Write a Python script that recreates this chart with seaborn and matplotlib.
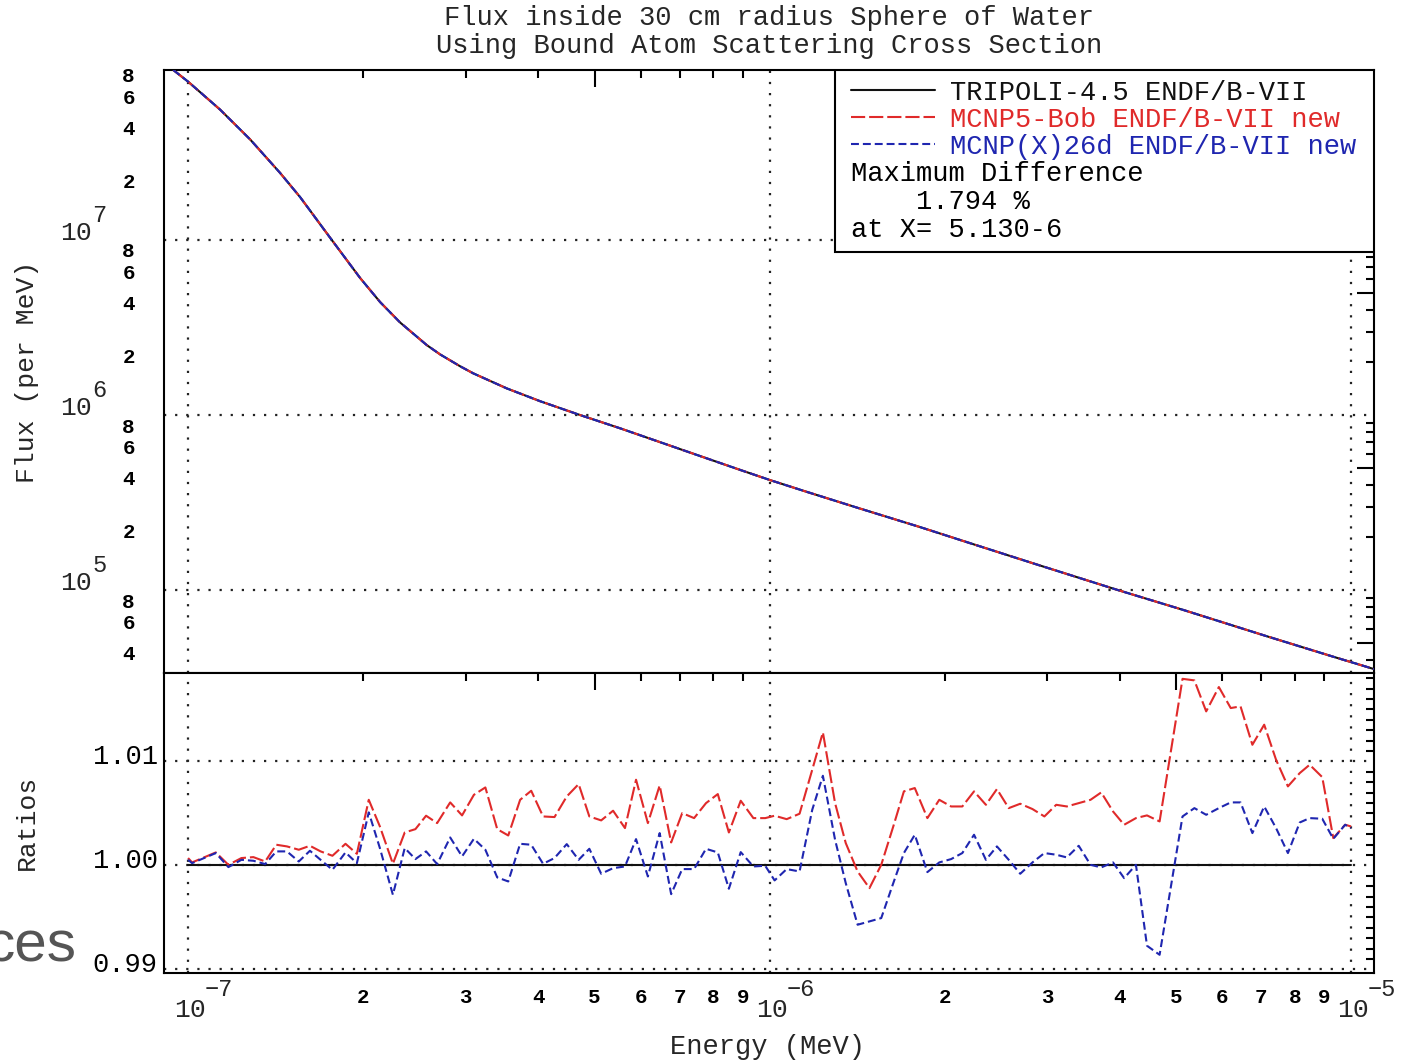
import numpy as np
import pandas as pd
import matplotlib
matplotlib.use("Agg")
import matplotlib.pyplot as plt
import matplotlib.ticker as mticker
from matplotlib.transforms import ScaledTranslation
from matplotlib.patches import Rectangle
import seaborn as sns

# ---------------- data ----------------
title_lines = ["Flux inside 30 cm radius Sphere of Water",
               "Using Bound Atom Scattering Cross Section"]
series_names = ["TRIPOLI-4.5 ENDF/B-VII",
                "MCNP5-Bob ENDF/B-VII new",
                "MCNP(X)26d ENDF/B-VII new"]
max_diff_lines = ["Maximum Difference", "    1.794 %", "at X= 5.130-6"]
x_label = "Energy (MeV)"
y_label_top = "Flux (per MeV)"
y_label_bottom = "Ratios"

flux_energy = [9.43e-8, 1.000e-7, 1.135e-7, 1.278e-7, 1.439e-7, 1.558e-7,
               1.755e-7, 1.976e-7, 2.139e-7, 2.315e-7, 2.573e-7, 2.713e-7,
               2.936e-7, 3.094e-7, 3.532e-7, 4.030e-7, 4.722e-7, 5.533e-7,
               6.482e-7, 7.596e-7, 8.899e-7, 1.002e-6, 1.159e-6, 1.413e-6,
               1.815e-6, 2.183e-6, 2.843e-6, 3.954e-6, 5.147e-6, 7.161e-6,
               9.324e-6, 1.107e-5]
flux_tripoli = [9.36e7, 8.03e7, 5.56e7, 3.76e7, 2.42e7, 1.76e7,
                1.03e7, 6.07e6, 4.42e6, 3.38e6, 2.51e6, 2.22e6,
                1.90e6, 1.73e6, 1.42e6, 1.20e6, 1.00e6, 8.40e5,
                7.00e5, 5.83e5, 4.86e5, 4.25e5, 3.64e5, 2.96e5,
                2.29e5, 1.88e5, 1.42e5, 1.005e5, 7.70e4, 5.45e4,
                4.16e4, 3.50e4]
# MCNP flux curves coincide with TRIPOLI at this scale
flux_mcnp5 = list(flux_tripoli)
flux_mcnpx = list(flux_tripoli)

ratio_energy = [
    1.000e-7, 1.016e-7, 1.116e-7, 1.173e-7, 1.235e-7, 1.295e-7, 1.357e-7, 1.418e-7, 1.479e-7, 1.550e-7,
    1.620e-7, 1.690e-7, 1.771e-7, 1.865e-7, 1.951e-7, 2.045e-7, 2.137e-7, 2.250e-7, 2.358e-7, 2.460e-7,
    2.566e-7, 2.681e-7, 2.823e-7, 2.959e-7, 3.101e-7, 3.245e-7, 3.401e-7, 3.553e-7, 3.724e-7, 3.891e-7,
    4.078e-7, 4.267e-7, 4.479e-7, 4.695e-7, 4.898e-7, 5.133e-7, 5.381e-7, 5.640e-7, 5.893e-7, 6.176e-7,
    6.471e-7, 6.772e-7, 7.075e-7, 7.416e-7, 7.774e-7, 8.146e-7, 8.511e-7, 8.920e-7, 9.378e-7, 9.829e-7,
    1.020e-6, 1.070e-6, 1.126e-6, 1.184e-6, 1.235e-6, 1.296e-6, 1.352e-6, 1.417e-6, 1.485e-6, 1.556e-6,
    1.632e-6, 1.702e-6, 1.777e-6, 1.868e-6, 1.958e-6, 2.052e-6, 2.145e-6, 2.247e-6, 2.355e-6, 2.460e-6,
    2.578e-6, 2.698e-6, 2.832e-6, 2.969e-6, 3.111e-6, 3.245e-6, 3.401e-6, 3.564e-6, 3.718e-6, 3.896e-6,
    4.071e-6, 4.266e-6, 4.457e-6, 4.685e-6, 5.130e-6, 5.377e-6, 5.634e-6, 5.924e-6, 6.209e-6, 6.455e-6,
    6.765e-6, 7.089e-6, 7.430e-6, 7.787e-6, 8.161e-6, 8.487e-6, 8.921e-6, 9.320e-6, 9.768e-6, 1.000e-5]

ratio_tripoli = [1.0] * len(ratio_energy)

ratio_mcnp5 = [
    1.00071, 1.00029, 1.00125, 1.00006, 1.00071, 1.00080, 1.00038, 1.00199, 1.00183, 1.00151,
    1.00189, 1.00135, 1.00093, 1.00208, 1.00112, 1.00631, 1.00375, 1.00016, 1.00317, 1.00349,
    1.00478, 1.00407, 1.00606, 1.00481, 1.00679, 1.00750, 1.00349, 1.00288, 1.00631, 1.00718,
    1.00471, 1.00465, 1.00663, 1.00782, 1.00471, 1.00433, 1.00526, 1.00359, 1.00824, 1.00407,
    1.00769, 1.00221, 1.00503, 1.00455, 1.00599, 1.00686, 1.00317, 1.00622, 1.00455, 1.00455,
    1.00478, 1.00445, 1.00497, 1.00920, 1.01279, 1.00599, 1.00215, 0.99942, 0.99782, 1.00006,
    1.00375, 1.00712, 1.00744, 1.00455, 1.00631, 1.00567, 1.00567, 1.00712, 1.00583, 1.00734,
    1.00551, 1.00593, 1.00542, 1.00471, 1.00583, 1.00567, 1.00599, 1.00631, 1.00702, 1.00519,
    1.00391, 1.00455, 1.00481, 1.00423, 1.01794, 1.01779, 1.01481, 1.01715, 1.01513, 1.01529,
    1.01160, 1.01353, 1.01016, 1.00760, 1.00888, 1.00968, 1.00849, 1.00263, 1.00391, 1.00375]

ratio_mcnpx = [
    1.00054, 1.00022, 1.00119, 0.99984, 1.00054, 1.00045, 1.00013, 1.00135, 1.00135, 1.00038,
    1.00141, 1.00054, 0.99958, 1.00125, 1.00022, 1.00510, 1.00167, 0.99718, 1.00167, 1.00061,
    1.00135, 1.00013, 1.00269, 1.00087, 1.00256, 1.00151, 0.99885, 0.99846, 1.00208, 1.00199,
    1.00016, 1.00071, 1.00205, 1.00054, 1.00160, 0.99920, 0.99974, 0.99990, 1.00253, 0.99894,
    1.00311, 0.99724, 0.99965, 0.99965, 1.00160, 1.00125, 0.99776, 1.00128, 0.99990, 0.99997,
    0.99856, 0.99965, 0.99942, 1.00535, 1.00862, 1.00247, 0.99830, 0.99430, 0.99462, 0.99494,
    0.99830, 1.00119, 1.00295, 0.99936, 1.00029, 1.00061, 1.00119, 1.00295, 1.00054, 1.00183,
    1.00054, 0.99920, 1.00029, 1.00119, 1.00103, 1.00077, 1.00189, 1.00006, 0.99981, 1.00029,
    0.99878, 1.00006, 0.99228, 0.99141, 1.00471, 1.00551, 1.00487, 1.00551, 1.00606, 1.00606,
    1.00311, 1.00567, 1.00359, 1.00119, 1.00413, 1.00455, 1.00449, 1.00256, 1.00391, 1.00359]

# ---------------- style ----------------
sns.set_style("white")
plt.rcParams['font.family'] = ['Liberation Mono', 'DejaVu Sans']
plt.rcParams['axes.linewidth'] = 1.5
plt.rcParams['axes.edgecolor'] = 'black'

C_BLACK = "#111111"
C_RED = "#E02A2A"
C_BLUE = "#1F26B0"
FS = 19.5
FS_MINOR = 15
LW = 1.5
DASH_RED = (0, (6.8, 1.9))
DASH_BLUE = (0, (3.8, 1.9))

fig = plt.figure(figsize=(14.09, 10.62), dpi=100)
left, width = 164 / 1409, (1374 - 164) / 1409
ax1 = fig.add_axes([left, 1 - 673 / 1062, width, (673 - 70) / 1062])
ax2 = fig.add_axes([left, 1 - 973 / 1062, width, (973 - 673) / 1062])

XMIN, XMAX = 9.09e-8, 1.095e-5
for ax in (ax1, ax2):
    ax.set_xscale('log')
    ax.set_xlim(XMIN, XMAX)
    ax.set_facecolor('white')
ax1.set_yscale('log')
ax1.set_ylim(3.36e4, 9.36e7)
ax2.set_ylim(0.98966, 1.0185)

# ---------------- data frames & lines ----------------
df_flux = pd.DataFrame({"energy": flux_energy, "tripoli": flux_tripoli,
                        "mcnp5": flux_mcnp5, "mcnpx": flux_mcnpx})
df_ratio = pd.DataFrame({"energy": ratio_energy, "tripoli": ratio_tripoli,
                         "mcnp5": ratio_mcnp5, "mcnpx": ratio_mcnpx})

specs = [("tripoli", C_BLACK, '-'), ("mcnp5", C_RED, DASH_RED), ("mcnpx", C_BLUE, DASH_BLUE)]
handles = []
for col, c, ls in specs:
    sns.lineplot(data=df_flux, x="energy", y=col, ax=ax1, color=c, linewidth=LW,
                 linestyle=ls, sort=False, estimator=None, errorbar=None, zorder=3)
    handles.append(ax1.lines[-1])
for col, c, ls in specs:
    sns.lineplot(data=df_ratio, x="energy", y=col, ax=ax2, color=c, linewidth=LW,
                 linestyle=ls, sort=False, estimator=None, errorbar=None, zorder=3)

for ax in (ax1, ax2):
    ax.set_xlabel("")
    ax.set_ylabel("")

# ---------------- ticks ----------------
def mant(v):
    return int(round(v / 10 ** np.floor(np.log10(v) + 1e-9)))

def mant_all(v, pos):
    return "%d" % mant(v)

def mant_even(v, pos):
    m = mant(v)
    return "%d" % m if m in (2, 4, 6, 8) else ""

for ax in (ax1, ax2):
    ax.xaxis.set_major_locator(mticker.LogLocator(base=10, subs=(1.0,), numticks=30))
    ax.xaxis.set_minor_locator(mticker.LogLocator(base=10, subs=np.arange(2, 10), numticks=30))
    ax.tick_params(axis='both', which='both', direction='in', top=True, right=True,
                   width=1.5, color='black', labelcolor='black')
    ax.tick_params(which='major', length=0, labelsize=FS)
    ax.tick_params(which='minor', length=6, labelsize=FS_MINOR)
    ax.grid(True, which='major', linestyle=(0, (1, 4)), color='#222222', linewidth=1.6)
    ax.grid(False, which='minor')
    for s in ax.spines.values():
        s.set_linewidth(1.5)
        s.set_color('black')

ax1.tick_params(axis='x', which='both', labelbottom=False)
ax1.yaxis.set_major_locator(mticker.LogLocator(base=10, subs=(1.0,), numticks=30))
ax1.yaxis.set_minor_locator(mticker.LogLocator(base=10, subs=np.arange(2, 10), numticks=30))
ax1.yaxis.set_major_formatter(mticker.NullFormatter())
ax1.yaxis.set_minor_formatter(mticker.FuncFormatter(mant_even))
ax1.tick_params(axis='y', which='minor', pad=21)

ax2.xaxis.set_major_formatter(mticker.NullFormatter())
ax2.xaxis.set_minor_formatter(mticker.FuncFormatter(mant_all))
ax2.tick_params(axis='x', which='minor', pad=11)
ax2.yaxis.set_major_locator(mticker.MultipleLocator(0.01))
ax2.yaxis.set_minor_locator(mticker.MultipleLocator(0.001))
ax2.yaxis.set_major_formatter(mticker.FormatStrFormatter('%.2f'))
ax2.yaxis.set_minor_formatter(mticker.NullFormatter())
ax2.tick_params(axis='y', which='major', pad=4.5)

# decade labels "10" with a raised exponent (IDL style)
PX = 0.72  # points per pixel at 100 dpi
def decade_exp(v):
    return int(round(np.log10(v)))

x0, x1 = ax2.get_xlim()
for loc in ax2.xaxis.get_majorticklocs():
    if x0 <= loc <= x1:
        e = decade_exp(loc)
        ax2.annotate("10", xy=(loc, 0), xycoords=ax2.get_xaxis_transform(),
                     xytext=(2 * PX, -37 * PX), textcoords='offset points',
                     ha='center', va='center', fontsize=19, annotation_clip=False)
        ax2.annotate(("\u2212%d" % -e) if e < 0 else "%d" % e, xy=(loc, 0),
                     xycoords=ax2.get_xaxis_transform(),
                     xytext=(17 * PX, -16 * PX), textcoords='offset points',
                     ha='left', va='center', fontsize=17, annotation_clip=False)
y0, y1 = ax1.get_ylim()
for loc in ax1.yaxis.get_majorticklocs():
    if y0 <= loc <= y1:
        e = decade_exp(loc)
        ax1.annotate("10", xy=(0, loc), xycoords=ax1.get_yaxis_transform(),
                     xytext=(-72 * PX, 7 * PX), textcoords='offset points',
                     ha='right', va='center', fontsize=19, annotation_clip=False)
        ax1.annotate("%d" % e, xy=(0, loc), xycoords=ax1.get_yaxis_transform(),
                     xytext=(-72 * PX, 25 * PX), textcoords='offset points',
                     ha='left', va='center', fontsize=17, annotation_clip=False)

# ---------------- legend box ----------------
ax1.add_patch(Rectangle((0.5545, 0.698), 0.4455, 0.302, transform=ax1.transAxes,
                        facecolor='white', edgecolor='black', linewidth=1.5, zorder=4))
leg = ax1.legend(handles, series_names, loc='upper left', bbox_to_anchor=(0.5678, 0.984),
                 frameon=False, borderpad=0, borderaxespad=0, handlelength=3.1,
                 handletextpad=0.55, labelspacing=0.04, fontsize=FS, labelcolor='linecolor')
leg.set_zorder(6)
for txt, yy in zip(max_diff_lines, (0.8275, 0.7811, 0.7347)):
    ax1.text(0.5678, yy, txt, transform=ax1.transAxes, fontsize=FS, va='center',
             ha='left', color='black', zorder=6)

# ---------------- titles / labels ----------------
fig.text(0.546, 1 - 18 / 1062, title_lines[0], ha='center', va='center', fontsize=FS)
fig.text(0.546, 1 - 46 / 1062, title_lines[1], ha='center', va='center', fontsize=FS)
fig.text(0.545, 1 - 1047 / 1062, x_label, ha='center', va='center', fontsize=FS)
fig.text(27 / 1409, 1 - 372 / 1062, y_label_top, ha='center', va='center', rotation=90, fontsize=19)
fig.text(27 / 1409, 1 - 822 / 1062, y_label_bottom, ha='center', va='center', rotation=90, fontsize=19)
fig.text(-15 / 1409, 1 - 962 / 1062, "ces", ha='left', va='baseline', fontsize=42,
         color='#555555', family=['Liberation Sans', 'DejaVu Sans'])

# ---------------- tick fine-tuning ----------------
fig.canvas.draw()
up = ScaledTranslation(0, 7 / 100, fig.dpi_scale_trans)
for t in ax1.yaxis.get_minor_ticks() + ax2.yaxis.get_major_ticks():
    t.label1.set_transform(t.label1.get_transform() + up)
for t in ax1.yaxis.get_minor_ticks() + ax2.xaxis.get_minor_ticks():
    t.label1.set_fontweight('bold')

def lengthen_fives(axis, L=12):
    locs = axis.get_minorticklocs()
    ticks = axis.get_minor_ticks(len(locs))
    for loc, t in zip(locs, ticks):
        if mant(loc) == 5:
            t.tick1line.set_markersize(L)
            t.tick2line.set_markersize(L)

for ax in (ax1, ax2):
    lengthen_fives(ax.xaxis)
lengthen_fives(ax1.yaxis)

fig.savefig("out.png", dpi=100, facecolor='white')
